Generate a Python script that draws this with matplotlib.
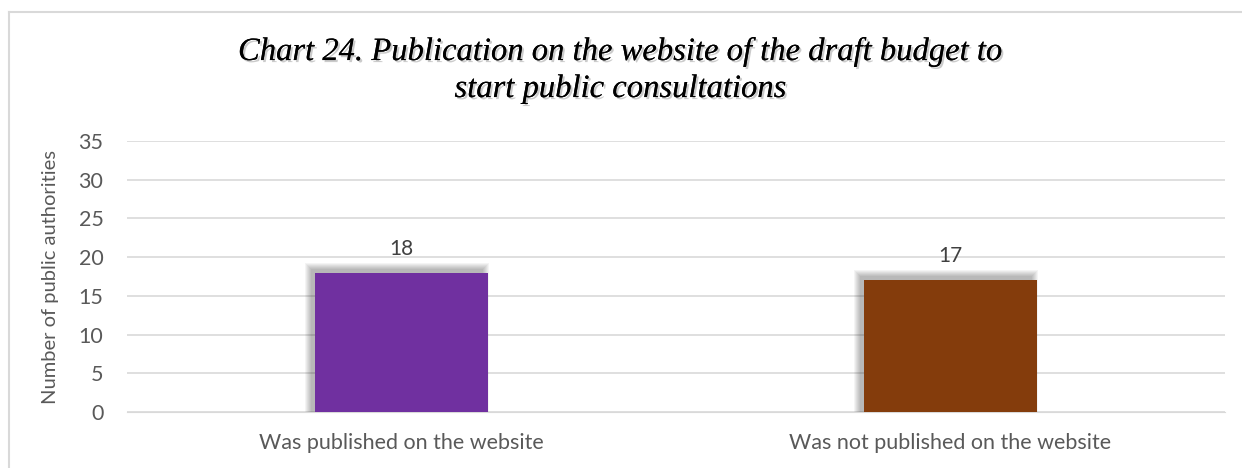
import matplotlib.pyplot as plt
import matplotlib.patheffects as pe
from matplotlib.patches import Rectangle

categories = ["Was published on the website", "Was not published on the website"]
counts = [18, 17]
bar_colors = ["#7030A0", "#843C0C"]
y_ticks = [0, 5, 10, 15, 20, 25, 30, 35]

title = "Chart 24. Publication on the website of the draft budget to\nstart public consultations"

W, H = 1242, 468
fig = plt.figure(figsize=(W / 100, H / 100), dpi=100)
fig.patch.set_facecolor("white")

# outer chart border (top and left edges visible)
fig.add_artist(plt.Line2D([9 / W, 1.0], [1 - 12 / H, 1 - 12 / H], color="#d9d9d9", lw=1.5))
fig.add_artist(plt.Line2D([9 / W, 9 / W], [0, 1 - 12 / H], color="#d9d9d9", lw=1.5))

ax = fig.add_axes([127 / W, 1 - 412 / H, (1225 - 127) / W, (412 - 141) / H])
x = list(range(len(categories)))
width = 0.315

ax.set_xlim(-0.5, 1.5)
ax.set_ylim(0, 35)
px_x = 2.0 / 1098   # data units per pixel, x
px_y = 35.0 / 271   # data units per pixel, y

# blurred shadow up and to the left of each bar
for xi, val in zip(x, counts):
    for k in range(1, 8):
        ax.add_patch(Rectangle((xi - width / 2 - (3 + k) * px_x, 0),
                               width + 2 * k * px_x - 3 * px_x, val + (3 + k) * px_y,
                               facecolor="black", alpha=0.045, lw=0, zorder=2))

bars = ax.bar(x, counts, width=width, color=bar_colors, zorder=3)
for b, val in zip(bars, counts):
    ax.annotate(str(val), (b.get_x() + b.get_width() / 2, val), xytext=(0, 10),
                textcoords="offset points", ha="center", va="bottom",
                fontsize=15, color="#404040", family="Lato")

ax.set_yticks(y_ticks)
ax.set_xticks(x)
ax.set_xticklabels(categories)
ax.yaxis.grid(True, color="#d9d9d9", lw=1.2, zorder=0)
ax.set_axisbelow(True)
for s in ax.spines.values():
    s.set_visible(False)
ax.spines["bottom"].set_visible(True)
ax.spines["bottom"].set_color("#d9d9d9")
ax.tick_params(length=0, labelsize=15.5, colors="#595959")
ax.tick_params(axis="x", pad=15)
ax.tick_params(axis="y", pad=17)
for lab in ax.get_xticklabels() + ax.get_yticklabels():
    lab.set_family("Lato")
ax.set_ylabel("Number of public authorities", fontsize=14.5, color="#595959",
              family="Lato", labelpad=14)

fig.text(0.5, 1 - 70 / H, title, ha="center", va="center", fontsize=23.5,
         style="italic", family="Liberation Serif", color="black", linespacing=1.25,
         path_effects=[pe.withSimplePatchShadow(offset=(1.5, -1.5), shadow_rgbFace="#999999",
                                                alpha=0.5), pe.Normal()])

fig.savefig("out.png", dpi=100)
